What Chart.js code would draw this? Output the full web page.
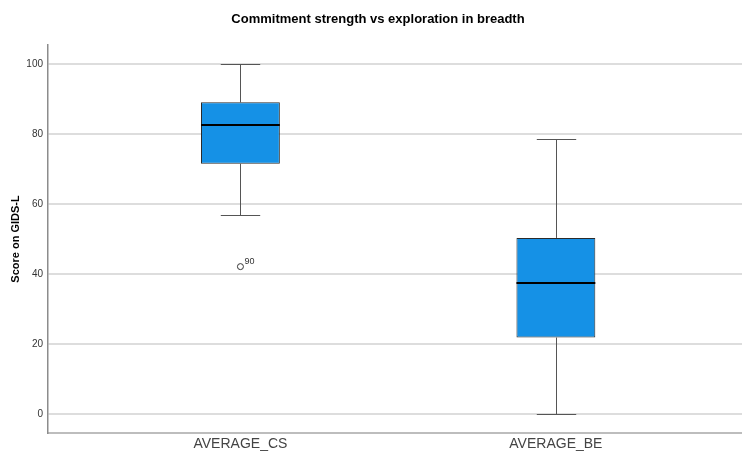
<!DOCTYPE html>
<html>
<head>
<meta charset="utf-8">
<script src="https://cdn.jsdelivr.net/npm/chart.js@4.4.1/dist/chart.umd.min.js"></script>
<style>
  html, body { margin: 0; padding: 0; background: #ffffff; }
  #wrap { width: 742px; height: 458px; position: relative; }
  canvas { display: block; }
</style>
</head>
<body>
<div id="wrap"><canvas id="c" width="742" height="458"></canvas></div>
<script>
// Box plot summaries for the two GIDS-L scales
const categories   = ['AVERAGE_CS', 'AVERAGE_BE'];
const whiskerLow   = [56.9, 0];
const quartile1    = [71.5, 21.8];
const medians      = [82.7, 37.4];
const quartile3    = [89.1, 50.3];
const whiskerHigh  = [100, 78.5];
// Outliers: group index, value, case number
const outlierGroup = [0];
const outlierValue = [42.1];
const outlierCase  = ['90'];
const yTicks       = [0, 20, 40, 60, 80, 100];

const chartTitle = 'Commitment strength vs exploration in breadth';
const yTitle = 'Score on GIDS-L';

const positions = categories.map((_, i) => i + 1);

// Whiskers, caps, medians and outlier labels drawn on the chart's scales
const boxParts = {
  id: 'boxParts',
  beforeDatasetsDraw(chart) {
    const { ctx, scales: { x, y } } = chart;
    ctx.save();
    ctx.strokeStyle = '#555555';
    ctx.lineWidth = 1;
    positions.forEach((p, i) => {
      const cx = Math.round(x.getPixelForValue(p)) + 0.5;
      const capHalf = (x.getPixelForValue(p + 0.0625) - x.getPixelForValue(p));
      const yLo = Math.round(y.getPixelForValue(whiskerLow[i])) + 0.5;
      const yHi = Math.round(y.getPixelForValue(whiskerHigh[i])) + 0.5;
      ctx.beginPath();
      ctx.moveTo(cx, y.getPixelForValue(quartile1[i]));
      ctx.lineTo(cx, yLo);
      ctx.moveTo(cx, y.getPixelForValue(quartile3[i]));
      ctx.lineTo(cx, yHi);
      ctx.moveTo(cx - capHalf, yLo);
      ctx.lineTo(cx + capHalf, yLo);
      ctx.moveTo(cx - capHalf, yHi);
      ctx.lineTo(cx + capHalf, yHi);
      ctx.stroke();
    });
    ctx.restore();
  },
  afterDatasetsDraw(chart) {
    const { ctx, scales: { x, y } } = chart;
    ctx.save();
    ctx.strokeStyle = '#000000';
    ctx.lineWidth = 2;
    positions.forEach((p, i) => {
      const half = x.getPixelForValue(p + 0.125) - x.getPixelForValue(p);
      const cx = x.getPixelForValue(p);
      const ym = Math.round(y.getPixelForValue(medians[i]));
      ctx.beginPath();
      ctx.moveTo(cx - half, ym);
      ctx.lineTo(cx + half, ym);
      ctx.stroke();
    });
    ctx.fillStyle = '#333333';
    ctx.font = '9px "Liberation Sans", Arial, sans-serif';
    ctx.textAlign = 'left';
    ctx.textBaseline = 'bottom';
    outlierValue.forEach((v, k) => {
      const px = x.getPixelForValue(positions[outlierGroup[k]]);
      const py = y.getPixelForValue(v);
      ctx.fillText(outlierCase[k], px + 4, py - 1);
    });
    // Chart heading
    ctx.fillStyle = '#000000';
    ctx.font = 'bold 13px "Liberation Sans", Arial, sans-serif';
    ctx.textAlign = 'center';
    ctx.textBaseline = 'middle';
    ctx.fillText(chartTitle, 378, 19);
    ctx.restore();
  }
};

new Chart(document.getElementById('c'), {
  type: 'bar',
  data: {
    datasets: [
      {
        type: 'bar',
        data: positions.map((p, i) => ({ x: p, y: [quartile1[i], quartile3[i]] })),
        backgroundColor: '#1591e6',
        borderColor: '#2b2b2b',
        borderWidth: 1,
        borderSkipped: false,
        barPercentage: 0.25,
        categoryPercentage: 1.0,
        order: 2
      },
      {
        type: 'scatter',
        data: outlierValue.map((v, k) => ({ x: positions[outlierGroup[k]], y: v })),
        pointStyle: 'circle',
        pointRadius: 3,
        pointBackgroundColor: '#ffffff',
        pointBorderColor: '#333333',
        pointBorderWidth: 1,
        order: 1
      }
    ]
  },
  options: {
    responsive: false,
    animation: false,
    layout: { autoPadding: false, padding: { top: 45, left: 0, right: 0, bottom: 0 } },
    plugins: {
      legend: { display: false },
      tooltip: { enabled: false },
      title: { display: false }
    },
    scales: {
      x: {
        type: 'linear',
        offset: false,
        min: 0.39,
        max: 2.59,
        afterBuildTicks(scale) { scale.ticks = positions.map(v => ({ value: v })); },
        afterFit(scale) {
          scale.height = 25;
          scale.paddingLeft = 0;
          scale.paddingRight = 0;
        },
        ticks: {
          autoSkip: false,
          maxRotation: 0,
          padding: 3,
          color: '#444444',
          font: { family: '"Liberation Sans", Arial, sans-serif', size: 14 },
          callback: (v) => categories[positions.indexOf(v)] ?? ''
        },
        grid: { display: false, drawTicks: false, offset: false },
        border: { display: true, color: '#bdbdbd', width: 2 }
      },
      y: {
        type: 'linear',
        min: -5.5,
        max: 105.5,
        afterBuildTicks(scale) { scale.ticks = yTicks.map(v => ({ value: v })); },
        afterFit(scale) {
          scale.width = 48;
          scale.paddingTop = 0;
          scale.paddingBottom = 0;
        },
        ticks: {
          padding: 5,
          color: '#333333',
          font: { family: '"Liberation Sans", Arial, sans-serif', size: 10 }
        },
        grid: { color: '#dddddd', lineWidth: 2, drawTicks: false },
        border: { display: true, color: '#8c8c8c', width: 1.5 },
        title: {
          display: true,
          text: yTitle,
          color: '#000000',
          padding: { top: 9, bottom: 0 },
          font: { family: '"Liberation Sans", Arial, sans-serif', size: 11, weight: 'bold' }
        }
      }
    }
  },
  plugins: [boxParts]
});
</script>
</body>
</html>
